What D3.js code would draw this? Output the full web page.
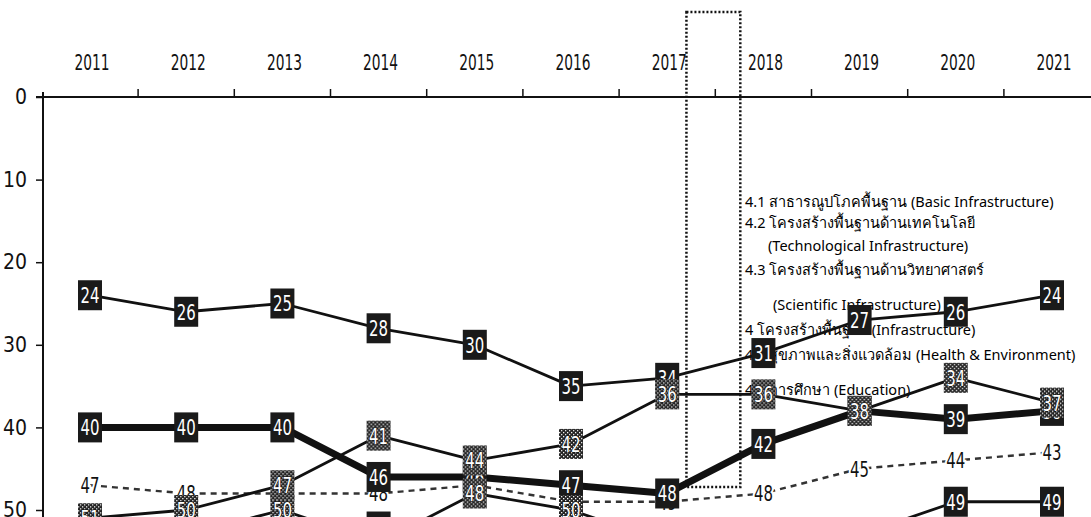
<!DOCTYPE html>
<html>
<head>
<meta charset="utf-8">
<script src="https://cdn.jsdelivr.net/npm/d3@7/dist/d3.min.js"></script>
<style>
  body { margin: 0; background: #fff; }
  svg { display: block; }
  .num { font-family: "Liberation Sans Narrow", "DejaVu Sans Condensed", "Roboto Condensed", "Liberation Sans", sans-serif; }
  .leg { font-family: "Noto Sans", "DejaVu Sans", sans-serif; }
</style>
</head>
<body>
<div id="chart"></div>
<script>

// ranks per year (lower = better)
var years = [2011, 2012, 2013, 2014, 2015, 2016, 2017, 2018, 2019, 2020, 2021];

var basicInfra   = [24, 26, 25, 28, 30, 35, 34, 31, 27, 26, 24];
var techInfra    = [40, 40, 40, 46, 46, 47, 48, 42, 38, 39, 38];
var sciInfra     = [51, 50, 47, 41, 44, 42, 36, 36, 38, 34, 37];
var infraOverall = [47, 48, 48, 48, 47, 49, 49, 48, 45, 44, 43];
var healthEnv    = [54, 54, 53, 52, 54, 55, 55, 54, 53, 49, 49];
var education    = [55, 53, 50, 54, 48, 50, 54, 55, 56, 56, 56];

var yTicks = [0, 10, 20, 30, 40, 50];

var legendLines = [
  "4.1 สาธารณูปโภคพื้นฐาน (Basic Infrastructure)",
  "4.2 โครงสร้างพื้นฐานด้านเทคโนโลยี",
  "(Technological Infrastructure)",
  "4.3 โครงสร้างพื้นฐานด้านวิทยาศาสตร์",
  "(Scientific Infrastructure)",
  "4 โครงสร้างพื้นฐาน (Infrastructure)",
  "4.4 สุขภาพและสิ่งแวดล้อม (Health & Environment)",
  "4.5 การศึกษา (Education)"
];

// style table built from the arrays above
var series = [
  { key: "edu",    values: education,    line: "thin",  box: "hatch" },
  { key: "health", values: healthEnv,    line: "thin",  box: "black" },
  { key: "infra",  values: infraOverall, line: "dash",  box: "none"  },
  { key: "basic",  values: basicInfra,   line: "thin",  box: "black" },
  { key: "tech",   values: techInfra,    line: "thick", box: "black" },
  { key: "sci",    values: sciInfra,     line: "thin",  box: "hatch" }
];

var width = 1091, height = 517;

var svg = d3.select("#chart").append("svg")
    .attr("width", width).attr("height", height);

// speckled fill for the "hatched" labels
var defs = svg.append("defs");
var pat = defs.append("pattern").attr("id", "speckle")
    .attr("patternUnits", "userSpaceOnUse").attr("width", 4).attr("height", 4);
pat.append("rect").attr("width", 4).attr("height", 4).attr("fill", "#222");
pat.append("rect").attr("x", 0).attr("y", 0).attr("width", 1.3).attr("height", 1.3).attr("fill", "#fff");
pat.append("rect").attr("x", 2).attr("y", 2).attr("width", 1.3).attr("height", 1.3).attr("fill", "#eee");

var x = d3.scalePoint().domain(years).range([90, 1052]);
var y = d3.scaleLinear().domain([0, 50]).range([97, 510]);
var step = x.step();

// top axis line with ticks between the years
svg.append("line")
   .attr("x1", 36).attr("x2", width)
   .attr("y1", y(0)).attr("y2", y(0))
   .attr("stroke", "#111").attr("stroke-width", 2);

svg.selectAll(".xtick").data(years.slice(0, -1))
   .enter().append("line")
   .attr("class", "xtick")
   .attr("x1", function(d) { return x(d) + step / 2; })
   .attr("x2", function(d) { return x(d) + step / 2; })
   .attr("y1", y(0)).attr("y2", y(0) - 8)
   .attr("stroke", "#111").attr("stroke-width", 1.5);

svg.selectAll(".xlab").data(years)
   .enter().append("text")
   .attr("class", "xlab num")
   .attr("x", function(d) { return x(d) + 2; })
   .attr("y", 62)
   .attr("dy", "0.35em")
   .attr("text-anchor", "middle")
   .attr("font-size", 22)
   .attr("textLength", 35).attr("lengthAdjust", "spacingAndGlyphs")
   .attr("fill", "#111")
   .text(function(d) { return d; });

// left axis
var yAxis = d3.axisLeft(y).tickValues(yTicks).tickSize(7).tickPadding(9);
var gy = svg.append("g").attr("transform", "translate(43,0)").call(yAxis);
gy.select(".domain").remove();
gy.selectAll(".tick line").attr("stroke", "#111").attr("stroke-width", 1.5);
gy.selectAll(".tick text")
  .attr("class", "num")
  .attr("font-size", 21)
  .attr("fill", "#111");
svg.append("line")
   .attr("x1", 43).attr("x2", 43)
   .attr("y1", y(0) - 5).attr("y2", height)
   .attr("stroke", "#111").attr("stroke-width", 2);

// dotted highlight box between 2017 and 2018
svg.append("rect")
   .attr("x", x(2017) + 0.2 * step)
   .attr("y", 12)
   .attr("width", 0.56 * step)
   .attr("height", 475)
   .attr("fill", "none")
   .attr("stroke", "#111")
   .attr("stroke-width", 2.5)
   .attr("stroke-dasharray", "2,2");

// legend text (no swatches in the original)
var legendY  = [202, 223, 246, 270, 305, 330, 355, 390];
var legendX  = [745, 745, 768, 745, 773, 745, 745, 745];

svg.selectAll(".leg").data(legendLines)
   .enter().append("text")
   .attr("class", "leg")
   .attr("x", function(d, i) { return legendX[i]; })
   .attr("y", function(d, i) { return legendY[i]; })
   .attr("dy", "0.35em")
   .attr("font-size", 14.5)
   .attr("fill", "#000")
   .text(function(d) { return d; });

var lineGen = d3.line()
    .x(function(d, i) { return x(years[i]); })
    .y(function(d) { return y(d); });

// lines
series.forEach(function(s) {
  var p = svg.append("path")
     .datum(s.values)
     .attr("d", lineGen)
     .attr("fill", "none")
     .attr("stroke", "#111")
     .attr("stroke-linejoin", "round");
  if (s.line === "thick") p.attr("stroke-width", 7);
  else if (s.line === "dash") p.attr("stroke-width", 2.4).attr("stroke", "#333").attr("stroke-dasharray", "6,5");
  else p.attr("stroke-width", 2.8);
});

// labels: plain text for the dashed series, black then speckled boxes
function drawLabels(s) {
  var g = svg.append("g").attr("class", "lab-" + s.key);
  var pts = g.selectAll("g").data(s.values).enter().append("g")
     .attr("transform", function(d, i) { return "translate(" + x(years[i]) + "," + y(d) + ")"; });

  if (s.box !== "none") {
    pts.append("rect")
       .attr("x", -12).attr("y", -15)
       .attr("width", 24).attr("height", 30)
       .attr("fill", s.box === "black" ? "#1a1a1a" : "url(#speckle)");
  }

  var t = pts.append("text")
     .attr("class", "num")
     .attr("text-anchor", "middle")
     .attr("dy", "0.36em")
     .attr("font-size", 22)
     .attr("textLength", 19).attr("lengthAdjust", "spacingAndGlyphs")
     .text(function(d) { return d; });

  if (s.box === "none") {
    t.attr("fill", "#111").attr("stroke", "#fff").attr("stroke-width", 5)
     .attr("paint-order", "stroke");
  } else if (s.box === "hatch") {
    t.attr("fill", "#fff").attr("stroke", "#111").attr("stroke-width", 1.2)
     .attr("paint-order", "stroke");
  } else {
    t.attr("fill", "#fff");
  }
}

series.filter(function(s) { return s.box === "none"; }).forEach(drawLabels);
series.filter(function(s) { return s.box === "black"; }).forEach(drawLabels);
series.filter(function(s) { return s.box === "hatch"; }).forEach(drawLabels);

</script>
</body>
</html>
